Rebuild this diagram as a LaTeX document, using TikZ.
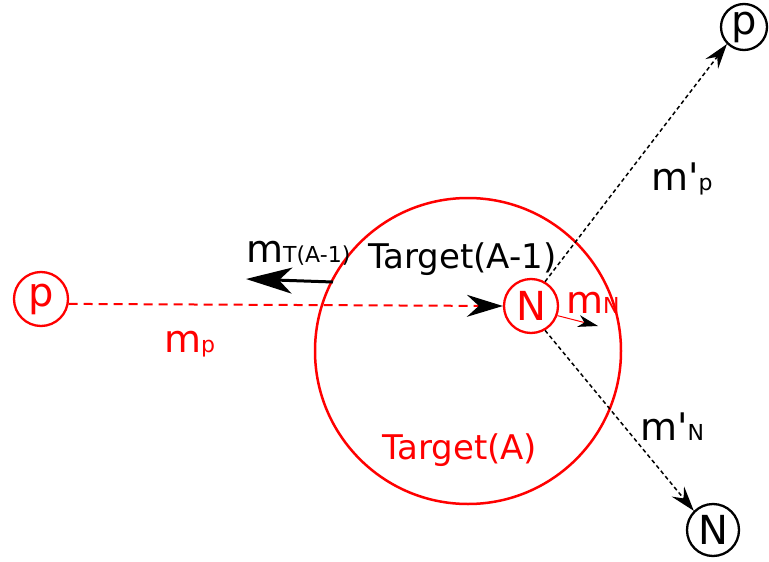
\documentclass[tikz,border=0pt]{standalone}
\usepackage{fontspec}
\setmainfont{DejaVu Sans}
\newfontfamily\plainfont{DejaVu Sans}[Ligatures=TeXOff]
\usetikzlibrary{arrows.meta}
\begin{document}
\begin{tikzpicture}[x=1pt,y=-1pt,
  big/.style={font=\fontsize{38}{38}\selectfont},
  mid/.style={font=\fontsize{34}{34}\selectfont},
  lbl/.style={anchor=base west, inner sep=0pt},
  particle/.style={circle, draw, line width=2.3pt, minimum size=#1, inner sep=0pt, font=\fontsize{40}{40}\selectfont},
  reddash/.style={red, line width=2pt, dash pattern=on 9pt off 6pt, -{Stealth[length=36pt,width=22pt,inset=12pt,color=black,fill=black]}},
  blackdash/.style={black, line width=1.5pt, dash pattern=on 4pt off 3pt, -{Stealth[length=25pt,width=16pt,inset=9pt]}}
]
\useasboundingbox (0,0) rectangle (769,562);
\node[draw=red, line width=2.5pt, circle, minimum size=306pt, inner sep=0pt] (tgt) at (468,351) {};
\node[particle=54pt, draw=red, text=red] (pin) at (41,299) {p};
\node[particle=54pt, draw=red, text=red] (nin) at (531,306) {N};
\node[particle=46pt] (pout) at (744,27) {p};
\node[particle=52pt] (nout) at (713,530) {N};
% incoming proton
\draw[reddash] (pin.-10) -- (nin.west);
% outgoing dashed
\draw[blackdash] (nin.60) -- (pout.225);
\draw[blackdash] (nin.-60) -- (nout.135);
% nucleon momentum
\coordinate (mnend) at (598,326);
\draw[red, line width=1pt, -{Stealth[length=20pt,width=12pt,inset=6pt,color=black,fill=black]}] (nin.-20) -- (mnend);
% recoil
\coordinate (ra) at (333,282);
\coordinate (rb) at (246,279);
\draw[black, line width=3pt, -{Stealth[length=46pt,width=26pt,inset=13pt]}] (ra) -- (rb);
% labels
\node[lbl, text=red, big] (lmp) at (164,352) {m{\fontsize{22}{22}\selectfont p}};
\node[lbl, big] (lmt) at (246,262) {m{\fontsize{22}{22}\selectfont T(A-1)}};
\node[lbl, mid] (lta1) at (368,268) {Target(A-1)};
\node[lbl, mid, text=red] (lta) at (382,459) {Target(A)};
\node[lbl, big, text=red] (lmn) at (566,313) {m{\fontsize{22}{22}\selectfont N}};
\node[lbl, big] (lmpp) at (651,190) {m{\plainfont'}{\fontsize{22}{22}\selectfont p}};
\node[lbl, big] (lmnp) at (640,440) {m{\plainfont'}{\fontsize{22}{22}\selectfont N}};
\end{tikzpicture}
\end{document}
